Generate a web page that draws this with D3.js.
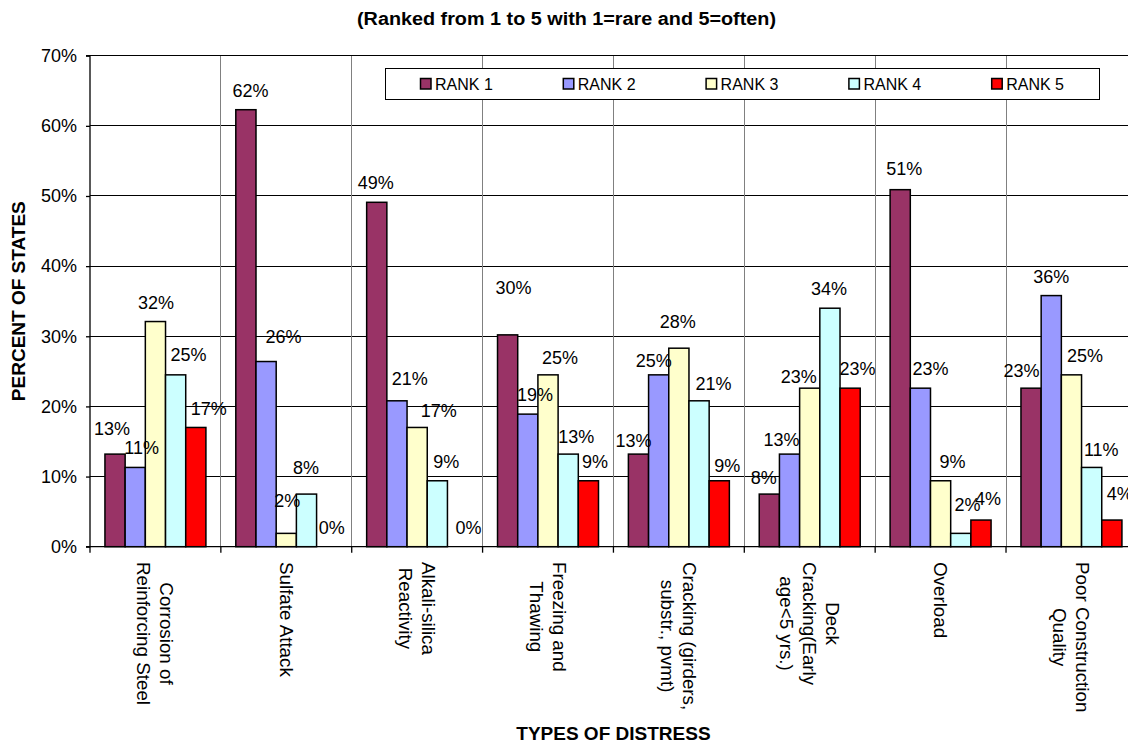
<!DOCTYPE html>
<html>
<head>
<meta charset="utf-8">
<script src="https://cdn.jsdelivr.net/npm/d3@7/dist/d3.min.js"></script>
<style>
  html, body { margin: 0; padding: 0; background: #fff; }
  svg { display: block; font-family: "Liberation Sans", Arial, sans-serif; }
</style>
</head>
<body>
<svg id="chart" width="1128" height="745"></svg>
<script>
// Survey: how often each distress type is reported, as share of states per rank
const categories = [
  ["Corrosion of", "Reinforcing Steel"],
  ["Sulfate Attack"],
  ["Alkali-silica", "Reactivity"],
  ["Freezing and", "Thawing"],
  ["Cracking (girders,", "substr., pvmt)"],
  ["Deck", "Cracking(Early", "age<5 yrs.)"],
  ["Overload"],
  ["Poor Construction", "Quality"]
];
const ranks = ["RANK 1", "RANK 2", "RANK 3", "RANK 4", "RANK 5"];

// percent of states, one array per rank, in category order
const rank1 = [13.2, 62.3, 49.1, 30.2, 13.2, 7.5, 50.9, 22.6];
const rank2 = [11.3, 26.4, 20.8, 18.9, 24.5, 13.2, 22.6, 35.8];
const rank3 = [32.1, 1.9, 17.0, 24.5, 28.3, 22.6, 9.4, 24.5];
const rank4 = [24.5, 7.5, 9.4, 13.2, 20.8, 34.0, 1.9, 11.3];
const rank5 = [17.0, 0.0, 0.0, 9.4, 9.4, 22.6, 3.8, 3.8];
const seriesValues = [rank1, rank2, rank3, rank4, rank5];

const yTicks = [0, 10, 20, 30, 40, 50, 60, 70];

const colors = ["#993366", "#9999FF", "#FFFFCC", "#CCFFFF", "#FF0000"];

// hand-placed data label offsets (px) from the default spot above each bar
const labelDx = [
  [-3, 4.7, -1, 6, -5, -5.5, 4, -9.5],
  [6.4, 17.5, 12.7, 7.3, -5, -8, 10, 0],
  [0.5, 1, 21.5, 12, -1, -11, 12, 13.6],
  [13, -0.6, 9, 8, 14.4, -1, 6.6, 9.6],
  [13, 5, 11, 6.7, 8, 7.5, 7, 8]
];
const labelDy = [
  [-6, 0, 0, -28, 6, 3, -2, 2],
  [0, -6, -3, 0, 5, 5, 0, 0],
  [0, -13, 3, 2, -7, 8, 0, 0],
  [-1, -7, 0, 2, 2, 0, -9, 2],
  [1, 0, 0, 0, 4, 0, -2, -7]
];

const svg = d3.select("#chart");
const FONT = "\"Liberation Sans\", Arial, sans-serif";

const plot = { left: 90, top: 55.7, bottom: 546.7, step: 130.86 };
plot.right = plot.left + plot.step * categories.length;

const catKeys = categories.map((c, i) => i);
const x0 = d3.scaleBand().domain(catKeys).range([plot.left, plot.right]).paddingInner(0).paddingOuter(0);
const x1 = d3.scaleBand().domain(ranks).range([0, x0.bandwidth()]).paddingInner(0).paddingOuter(0.74);
const y = d3.scaleLinear().domain([0, 70]).range([plot.bottom, plot.top]);

// horizontal gridlines
svg.append("g")
  .selectAll("line")
  .data(yTicks.slice(1))
  .join("line")
  .attr("x1", plot.left).attr("x2", plot.right)
  .attr("y1", d => y(d)).attr("y2", d => y(d))
  .attr("stroke", "#000").attr("stroke-width", 1)
  .attr("shape-rendering", "crispEdges");

// vertical gridlines between categories
svg.append("g")
  .selectAll("line")
  .data(catKeys.slice(1))
  .join("line")
  .attr("x1", d => x0(d)).attr("x2", d => x0(d))
  .attr("y1", plot.top).attr("y2", plot.bottom)
  .attr("stroke", "#808080").attr("stroke-width", 1)
  .attr("shape-rendering", "crispEdges");

// y axis
const yAxis = d3.axisLeft(y).tickValues(yTicks).tickSize(4).tickPadding(9).tickFormat(d => d + "%");
const gy = svg.append("g").attr("transform", `translate(${plot.left},0)`).call(yAxis);
gy.select(".domain").attr("stroke", "#000").attr("stroke-width", 1.3).attr("d", `M-4,${plot.top}H0V${plot.bottom}H-4`);
gy.selectAll(".tick line").attr("stroke", "#000").attr("stroke-width", 1.3);
gy.selectAll(".tick text").attr("font-size", 18).attr("font-family", FONT).attr("fill", "#000");

// x axis baseline and category boundary ticks
const gx = svg.append("g");
gx.append("line")
  .attr("x1", plot.left).attr("x2", plot.right)
  .attr("y1", plot.bottom).attr("y2", plot.bottom)
  .attr("stroke", "#000").attr("stroke-width", 1.3);
gx.selectAll("line.tick")
  .data(d3.range(categories.length + 1))
  .join("line")
  .attr("class", "tick")
  .attr("x1", d => plot.left + d * x0.step()).attr("x2", d => plot.left + d * x0.step())
  .attr("y1", plot.bottom).attr("y2", plot.bottom + 6)
  .attr("stroke", "#000").attr("stroke-width", 1.3);

// bars
const barData = [];
seriesValues.forEach((vals, s) => {
  vals.forEach((v, c) => barData.push({ s, c, v }));
});

svg.append("g")
  .selectAll("rect")
  .data(barData.filter(d => d.v > 0))
  .join("rect")
  .attr("x", d => x0(d.c) + x1(ranks[d.s]))
  .attr("y", d => y(d.v))
  .attr("width", x1.bandwidth())
  .attr("height", d => y(0) - y(d.v))
  .attr("fill", d => colors[d.s])
  .attr("stroke", "#000")
  .attr("stroke-width", 1.5);

// data labels
svg.append("g")
  .selectAll("text")
  .data(barData)
  .join("text")
  .attr("x", d => x0(d.c) + x1(ranks[d.s]) + x1.bandwidth() / 2 + labelDx[d.s][d.c])
  .attr("y", d => y(d.v) - 13 + labelDy[d.s][d.c])
  .attr("text-anchor", "middle")
  .attr("font-size", 18)
  .attr("font-family", FONT)
  .attr("fill", "#000")
  .text(d => Math.round(d.v) + "%");

// category labels, rotated to read downward, lines centred on each other
const catSize = 18.8, lineH = 22.6, capH = 13.5, labelTop = 562;
const gc = svg.append("g");
categories.forEach((lines, c) => {
  const cx = x0(c) + x0.bandwidth() / 2;
  const texts = lines.map((line, i) => {
    const bx = cx - capH / 2 + ((lines.length - 1) / 2 - i) * lineH;
    return gc.append("text")
      .attr("text-anchor", "middle")
      .attr("font-size", catSize)
      .attr("font-family", FONT)
      .attr("fill", "#000")
      .attr("data-bx", bx)
      .text(line);
  });
  const maxLen = d3.max(texts, t => t.node().getComputedTextLength());
  const cy = labelTop + maxLen / 2;
  texts.forEach(t => {
    t.attr("transform", `translate(${+t.attr("data-bx")},${cy}) rotate(90)`);
    t.attr("data-bx", null);
  });
});

// axis titles
svg.append("text")
  .attr("transform", `translate(25,${(plot.top + plot.bottom) / 2}) rotate(-90)`)
  .attr("text-anchor", "middle")
  .attr("font-size", 19)
  .attr("font-weight", "bold")
  .attr("font-family", FONT)
  .text("PERCENT OF STATES");

svg.append("text")
  .attr("x", (plot.left + plot.right) / 2)
  .attr("y", 740)
  .attr("text-anchor", "middle")
  .attr("font-size", 19)
  .attr("font-weight", "bold")
  .attr("font-family", FONT)
  .text("TYPES OF DISTRESS");

// chart title
svg.append("text")
  .attr("x", 357)
  .attr("y", 25)
  .attr("font-size", 18)
  .attr("font-weight", "bold")
  .attr("font-family", FONT)
  .attr("textLength", 419)
  .attr("lengthAdjust", "spacingAndGlyphs")
  .text("(Ranked from 1 to 5 with 1=rare and 5=often)");

// legend
const legend = svg.append("g");
legend.append("rect")
  .attr("x", 385).attr("y", 68).attr("width", 714).attr("height", 31)
  .attr("fill", "#fff").attr("stroke", "#000").attr("stroke-width", 1)
  .attr("shape-rendering", "crispEdges");
const legendX = d3.scalePoint().domain(ranks).range([420.5, 991.7]);
const items = legend.selectAll("g.item")
  .data(ranks)
  .join("g")
  .attr("class", "item")
  .attr("transform", d => `translate(${legendX(d)},0)`);
items.append("rect")
  .attr("x", 0).attr("y", 78.5).attr("width", 10.5).attr("height", 10.5)
  .attr("fill", (d, i) => colors[i])
  .attr("stroke", "#000").attr("stroke-width", 1.5);
items.append("text")
  .attr("x", 14.5).attr("y", 89.5)
  .attr("font-size", 16)
  .attr("font-family", FONT)
  .attr("fill", "#000")
  .text(d => d);
</script>
</body>
</html>
